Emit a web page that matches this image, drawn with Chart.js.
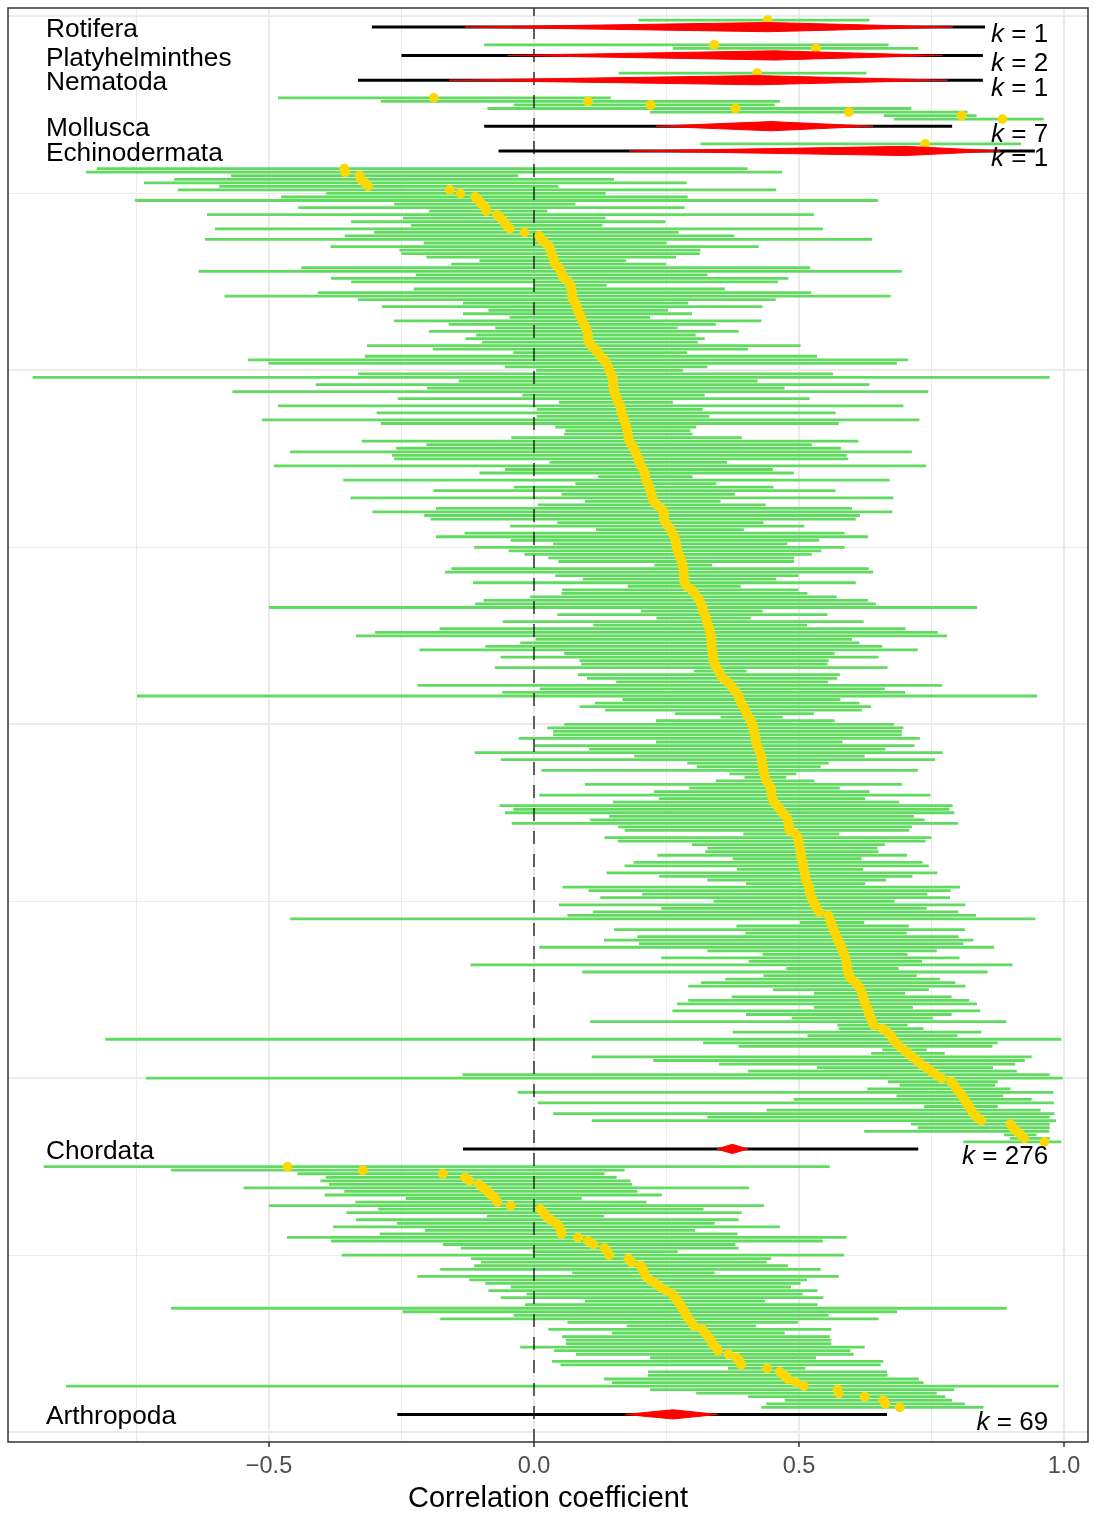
<!DOCTYPE html>
<html>
<head>
<meta charset="utf-8">
<title>Correlation coefficient by phylum</title>
<script src="https://cdn.jsdelivr.net/npm/chart.js@4.4.1/dist/chart.umd.min.js"></script>
<style>
  html, body { margin: 0; padding: 0; background: #fff; }
  canvas { display: block; }
</style>
</head>
<body>
<canvas id="forest" width="1095" height="1522"></canvas>
<script>
// phyla, top to bottom
const phyla = ["Rotifera", "Platyhelminthes", "Nematoda", "Mollusca", "Echinodermata", "Chordata", "Arthropoda"];
const kCounts = [1, 2, 1, 7, 1, 276, 69];

// pooled estimates per phylum
const summaryEst = [0.441, 0.454, 0.421, 0.447, 0.701, 0.374, 0.262];
const summaryCiLo = [-0.13, -0.05, -0.16, 0.23, 0.18, 0.345, 0.172];
const summaryCiHi = [0.79, 0.77, 0.78, 0.64, 0.88, 0.404, 0.347];
const summaryPiLo = [-0.306, -0.250, -0.332, -0.094, -0.067, -0.134, -0.258];
const summaryPiHi = [0.851, 0.847, 0.847, 0.789, 0.945, 0.725, 0.666];

// single studies (sorted within each phylum, top to bottom)
const rotiferaEst = [0.441];
const rotiferaLo = [0.197];
const rotiferaHi = [0.633];

const platyEst = [0.340, 0.532];
const platyLo = [-0.094, 0.262];
const platyHi = [0.669, 0.725];

const nematodaEst = [0.421];
const nematodaLo = [0.160];
const nematodaHi = [0.627];

const molluscaEst = [-0.189, 0.102, 0.220, 0.380, 0.594, 0.807, 0.884];
const molluscaLo = [-0.483, -0.289, -0.038, -0.088, 0.219, 0.660, 0.679];
const molluscaHi = [0.145, 0.464, 0.454, 0.712, 0.818, 0.835, 0.962];

const echinoEst = [0.738];
const echinoLo = [0.314];
const echinoHi = [0.919];

const chordataEst = [
  -0.358, -0.356, -0.329, -0.327, -0.319, -0.313, -0.159, -0.139, -0.111, -0.104,
  -0.099, -0.092, -0.090, -0.070, -0.063, -0.057, -0.052, -0.046, -0.018, 0.010,
  0.014, 0.021, 0.029, 0.031, 0.033, 0.036, 0.038, 0.040, 0.047, 0.051,
  0.053, 0.057, 0.065, 0.069, 0.070, 0.072, 0.072, 0.073, 0.078, 0.081,
  0.083, 0.085, 0.089, 0.091, 0.094, 0.098, 0.100, 0.102, 0.102, 0.103,
  0.108, 0.115, 0.121, 0.125, 0.132, 0.136, 0.140, 0.142, 0.146, 0.148,
  0.149, 0.149, 0.151, 0.151, 0.154, 0.156, 0.159, 0.163, 0.164, 0.165,
  0.168, 0.170, 0.173, 0.174, 0.176, 0.177, 0.178, 0.180, 0.184, 0.188,
  0.191, 0.194, 0.197, 0.199, 0.202, 0.206, 0.209, 0.210, 0.211, 0.215,
  0.218, 0.219, 0.222, 0.223, 0.226, 0.232, 0.240, 0.245, 0.245, 0.245,
  0.248, 0.253, 0.258, 0.261, 0.265, 0.267, 0.268, 0.269, 0.271, 0.273,
  0.276, 0.279, 0.280, 0.282, 0.282, 0.283, 0.283, 0.284, 0.288, 0.297,
  0.304, 0.307, 0.313, 0.315, 0.318, 0.319, 0.322, 0.325, 0.326, 0.328,
  0.331, 0.332, 0.334, 0.334, 0.335, 0.335, 0.336, 0.337, 0.338, 0.339,
  0.341, 0.344, 0.349, 0.352, 0.356, 0.365, 0.371, 0.376, 0.382, 0.386,
  0.388, 0.391, 0.395, 0.399, 0.401, 0.405, 0.409, 0.412, 0.414, 0.415,
  0.417, 0.418, 0.419, 0.421, 0.423, 0.426, 0.429, 0.430, 0.430, 0.432,
  0.433, 0.434, 0.436, 0.439, 0.443, 0.447, 0.448, 0.448, 0.450, 0.453,
  0.459, 0.464, 0.469, 0.475, 0.479, 0.480, 0.481, 0.482, 0.493, 0.498,
  0.499, 0.500, 0.502, 0.503, 0.504, 0.505, 0.507, 0.508, 0.509, 0.511,
  0.512, 0.513, 0.516, 0.519, 0.520, 0.521, 0.524, 0.527, 0.530, 0.534,
  0.538, 0.555, 0.558, 0.560, 0.563, 0.565, 0.568, 0.571, 0.573, 0.577,
  0.580, 0.582, 0.585, 0.588, 0.589, 0.590, 0.591, 0.593, 0.594, 0.599,
  0.607, 0.612, 0.616, 0.619, 0.621, 0.623, 0.625, 0.628, 0.631, 0.632,
  0.636, 0.638, 0.641, 0.657, 0.667, 0.674, 0.677, 0.683, 0.690, 0.698,
  0.706, 0.714, 0.722, 0.730, 0.740, 0.749, 0.758, 0.769, 0.787, 0.793,
  0.797, 0.803, 0.808, 0.812, 0.816, 0.821, 0.825, 0.829, 0.836, 0.844,
  0.899, 0.904, 0.911, 0.918, 0.925, 0.963
];
const chordataLo = [
  -0.825, -0.845, -0.572, -0.679, -0.736, -0.594, -0.672, -0.392, -0.477, -0.753,
  -0.264, -0.445, -0.198, -0.617, -0.247, -0.345, -0.232, -0.602, -0.302, -0.357,
  -0.621, -0.208, -0.384, -0.254, -0.250, -0.203, -0.103, -0.156, -0.439, -0.633,
  -0.223, -0.383, -0.345, 0.000, -0.227, -0.408, -0.584, -0.332, -0.134, -0.287,
  -0.086, -0.134, -0.046, -0.264, -0.161, -0.073, -0.198, -0.109, -0.129, -0.098,
  -0.315, -0.191, -0.039, -0.319, -0.540, -0.501, -0.055, 0.004, -0.332, -0.946,
  -0.142, -0.412, -0.202, -0.569, -0.022, -0.257, 0.047, -0.483, 0.005, -0.297,
  0.005, -0.513, -0.289, 0.040, 0.059, 0.057, -0.043, -0.325, -0.203, -0.260,
  -0.460, -0.268, -0.264, 0.029, -0.491, -0.055, -0.103, 0.121, -0.360, 0.078,
  -0.038, -0.190, 0.052, -0.346, 0.096, 0.007, -0.185, -0.305, -0.207, -0.195,
  0.044, -0.045, 0.117, -0.131, -0.185, -0.044, 0.036, -0.113, -0.048, -0.018,
  0.027, 0.046, 0.227, -0.156, -0.168, 0.040, 0.092, -0.115, 0.177, 0.053,
  0.052, -0.007, -0.095, -0.111, -0.500, 0.202, 0.044, 0.231, -0.059, 0.112,
  -0.178, -0.300, -0.336, 0.003, -0.026, -0.092, -0.216, 0.057, -0.063, 0.086,
  0.089, -0.074, 0.302, 0.083, 0.100, 0.155, -0.220, 0.011, -0.060, -0.749,
  0.167, 0.115, 0.086, 0.134, 0.266, 0.352, 0.230, 0.057, 0.025, 0.036,
  0.036, -0.029, 0.230, 0.001, 0.104, -0.112, 0.189, -0.063, 0.289, 0.307,
  0.014, 0.369, 0.397, 0.343, 0.096, 0.293, 0.226, 0.010, 0.236, 0.149,
  -0.065, -0.039, -0.055, 0.142, 0.106, -0.042, 0.159, 0.171, 0.395, 0.133,
  0.158, 0.298, 0.327, 0.323, 0.233, 0.375, 0.188, 0.171, 0.383, 0.137,
  0.236, 0.327, 0.400, 0.054, 0.103, 0.204, 0.125, 0.339, 0.047, 0.240,
  0.111, 0.063, -0.460, 0.502, 0.382, 0.151, 0.399, 0.195, 0.132, 0.198,
  0.010, 0.327, 0.431, 0.240, 0.405, -0.120, 0.476, 0.091, 0.433, 0.361,
  0.315, 0.291, 0.451, 0.528, 0.373, 0.291, 0.270, 0.528, 0.261, 0.400,
  0.486, 0.106, 0.572, 0.575, 0.375, 0.516, -0.809, 0.319, 0.386, 0.657,
  0.636, 0.109, 0.225, 0.349, 0.534, 0.404, -0.135, -0.732, 0.668, 0.690,
  0.629, -0.031, 0.684, 0.490, 0.007, 0.736, 0.439, 0.036, 0.327, 0.109,
  0.711, 0.724, 0.623, 0.887, 0.898, 0.810
];
const chordataHi = [
  0.403, 0.468, -0.030, 0.151, 0.288, 0.046, 0.457, 0.135, 0.290, 0.649,
  0.078, 0.284, 0.025, 0.528, 0.135, 0.248, 0.129, 0.545, 0.273, 0.378,
  0.638, 0.250, 0.424, 0.314, 0.313, 0.268, 0.174, 0.249, 0.521, 0.694,
  0.327, 0.480, 0.460, 0.137, 0.360, 0.523, 0.673, 0.456, 0.291, 0.431,
  0.253, 0.298, 0.219, 0.429, 0.343, 0.271, 0.386, 0.305, 0.322, 0.309,
  0.503, 0.404, 0.289, 0.534, 0.706, 0.685, 0.327, 0.281, 0.564, 0.973,
  0.422, 0.633, 0.473, 0.744, 0.322, 0.520, 0.262, 0.697, 0.318, 0.569,
  0.331, 0.727, 0.575, 0.306, 0.295, 0.299, 0.392, 0.612, 0.524, 0.579,
  0.713, 0.590, 0.593, 0.364, 0.740, 0.451, 0.490, 0.299, 0.671, 0.344,
  0.452, 0.569, 0.379, 0.678, 0.352, 0.437, 0.600, 0.676, 0.615, 0.607,
  0.433, 0.510, 0.396, 0.586, 0.630, 0.538, 0.478, 0.586, 0.542, 0.524,
  0.491, 0.491, 0.336, 0.632, 0.640, 0.499, 0.457, 0.607, 0.390, 0.499,
  0.516, 0.571, 0.630, 0.645, 0.836, 0.431, 0.554, 0.409, 0.622, 0.515,
  0.701, 0.762, 0.779, 0.600, 0.614, 0.657, 0.724, 0.567, 0.650, 0.556,
  0.554, 0.667, 0.401, 0.577, 0.572, 0.555, 0.770, 0.662, 0.700, 0.949,
  0.578, 0.614, 0.636, 0.619, 0.528, 0.469, 0.567, 0.679, 0.697, 0.694,
  0.694, 0.728, 0.582, 0.718, 0.663, 0.771, 0.624, 0.757, 0.556, 0.541,
  0.724, 0.495, 0.476, 0.529, 0.694, 0.577, 0.633, 0.748, 0.625, 0.689,
  0.790, 0.784, 0.793, 0.717, 0.737, 0.800, 0.713, 0.708, 0.576, 0.750,
  0.739, 0.662, 0.648, 0.650, 0.704, 0.618, 0.733, 0.745, 0.621, 0.761,
  0.714, 0.664, 0.625, 0.804, 0.786, 0.742, 0.785, 0.680, 0.814, 0.741,
  0.800, 0.834, 0.946, 0.623, 0.707, 0.813, 0.703, 0.801, 0.829, 0.810,
  0.868, 0.760, 0.705, 0.803, 0.732, 0.903, 0.688, 0.856, 0.722, 0.766,
  0.795, 0.814, 0.745, 0.700, 0.788, 0.821, 0.836, 0.715, 0.842, 0.788,
  0.753, 0.891, 0.705, 0.735, 0.844, 0.799, 0.995, 0.875, 0.865, 0.741,
  0.775, 0.939, 0.926, 0.908, 0.866, 0.911, 0.973, 0.998, 0.875, 0.870,
  0.899, 0.980, 0.885, 0.939, 0.981, 0.875, 0.956, 0.982, 0.973, 0.985,
  0.973, 0.973, 0.972, 0.948, 0.973, 0.995
];

const arthropodaEst = [
  -0.465, -0.323, -0.172, -0.130, -0.122, -0.104, -0.096, -0.087, -0.081, -0.073,
  -0.069, -0.044, 0.012, 0.018, 0.023, 0.031, 0.042, 0.047, 0.051, 0.052,
  0.083, 0.102, 0.112, 0.133, 0.138, 0.142, 0.178, 0.184, 0.201, 0.206,
  0.208, 0.211, 0.219, 0.229, 0.238, 0.249, 0.261, 0.266, 0.271, 0.276,
  0.280, 0.284, 0.287, 0.292, 0.297, 0.302, 0.318, 0.323, 0.328, 0.334,
  0.337, 0.343, 0.347, 0.367, 0.382, 0.388, 0.391, 0.440, 0.464, 0.472,
  0.479, 0.494, 0.509, 0.573, 0.575, 0.624, 0.659, 0.663, 0.690
];
const arthropodaLo = [
  -0.925, -0.685, -0.446, -0.393, -0.403, -0.387, -0.548, -0.358, -0.395, -0.242,
  -0.337, -0.500, -0.294, -0.354, -0.089, -0.336, -0.259, -0.379, -0.206, -0.291,
  -0.466, -0.383, -0.172, -0.138, -0.003, -0.363, -0.119, -0.100, -0.113, -0.177,
  0.072, -0.220, -0.122, -0.092, -0.044, -0.086, -0.014, -0.063, 0.096, -0.017,
  -0.685, -0.248, -0.038, -0.177, 0.063, 0.175, 0.027, 0.147, 0.053, 0.060,
  0.060, -0.026, 0.038, 0.079, 0.219, 0.034, 0.050, 0.366, 0.215, 0.215,
  0.132, 0.147, -0.883, 0.219, 0.306, 0.404, 0.473, 0.438, 0.429
];
const arthropodaHi = [
  0.558, 0.171, 0.133, 0.156, 0.182, 0.185, 0.406, 0.195, 0.241, 0.090,
  0.212, 0.434, 0.320, 0.392, 0.132, 0.386, 0.341, 0.464, 0.304, 0.384,
  0.590, 0.545, 0.380, 0.386, 0.271, 0.585, 0.447, 0.439, 0.479, 0.541,
  0.341, 0.575, 0.515, 0.503, 0.485, 0.535, 0.507, 0.546, 0.436, 0.535,
  0.892, 0.685, 0.556, 0.650, 0.498, 0.419, 0.561, 0.473, 0.558, 0.561,
  0.561, 0.624, 0.597, 0.603, 0.532, 0.659, 0.654, 0.512, 0.666, 0.667,
  0.726, 0.735, 0.990, 0.793, 0.760, 0.776, 0.789, 0.813, 0.848
];

// axis ticks
const xGridValues = [-0.75, -0.5, -0.25, 0, 0.25, 0.5, 0.75, 1];
const xMajorTicks = [-0.5, 0, 0.5, 1];
const xTickLabels = ["\u22120.5", "0.0", "0.5", "1.0"];
const yGridValues = [0, 50, 100, 150, 200, 250, 300, 350, 400];
const yMajorTicks = [0, 100, 200, 300, 400];

const studyEst = [rotiferaEst, platyEst, nematodaEst, molluscaEst, echinoEst, chordataEst, arthropodaEst];
const studyLo = [rotiferaLo, platyLo, nematodaLo, molluscaLo, echinoLo, chordataLo, arthropodaLo];
const studyHi = [rotiferaHi, platyHi, nematodaHi, molluscaHi, echinoHi, chordataHi, arthropodaHi];

// row layout: one unit per study, built from the bottom up
const summaryRow = [];
const studyRows = [];
let row = 5;
for (let p = phyla.length - 1; p >= 0; p--) {
  const k = studyEst[p].length;
  summaryRow[p] = row;
  studyRows[p] = studyEst[p].map((_, i) => row + 1 + k - i);
  row += 1 + k + 5;
}

const GREEN = "#60db60";
const GOLD = "#ffd700";
const RED = "#ff0000";
const FONT = '"Liberation Sans", Arial, Helvetica, sans-serif';
const DIAMOND_H = 1.3;

function segments(los, his, rows) {
  const pts = [];
  los.forEach((lo, i) => {
    pts.push({ x: lo, y: rows[i] }, { x: his[i], y: rows[i] }, { x: his[i], y: null });
  });
  return pts;
}

const ciPoints = [];
const estPoints = [];
phyla.forEach((_, p) => {
  ciPoints.push(...segments(studyLo[p], studyHi[p], studyRows[p]));
  studyEst[p].forEach((e, i) => estPoints.push({ x: e, y: studyRows[p][i] }));
});

const piPoints = segments(summaryPiLo, summaryPiHi, summaryRow);

const diamondSets = phyla.map((_, p) => {
  const r = summaryRow[p];
  return {
    type: "line",
    data: [
      { x: summaryCiLo[p], y: r },
      { x: summaryEst[p], y: r + DIAMOND_H },
      { x: summaryCiHi[p], y: r },
      { x: summaryEst[p], y: r - DIAMOND_H },
      { x: summaryCiLo[p], y: r }
    ],
    borderColor: RED,
    borderWidth: 1,
    backgroundColor: RED,
    fill: "shape",
    pointRadius: 0,
    order: 1
  };
});

const yMin = -2.8;
const yMax = 402.4;

const datasets = [
  {
    type: "line",
    data: ciPoints,
    borderColor: GREEN,
    borderWidth: 2.8,
    borderCapStyle: "butt",
    pointRadius: 0,
    spanGaps: false,
    order: 6
  },
  {
    type: "line",
    data: [{ x: 0, y: yMin }, { x: 0, y: yMax }],
    borderColor: "rgba(0,0,0,0.6)",
    borderWidth: 2,
    borderDash: [13, 10],
    pointRadius: 0,
    order: 5
  },
  {
    type: "line",
    data: estPoints,
    showLine: false,
    pointRadius: 4.9,
    pointBorderWidth: 0,
    pointBackgroundColor: GOLD,
    pointBorderColor: GOLD,
    order: 4
  },
  {
    type: "line",
    data: piPoints,
    borderColor: "#000",
    borderWidth: 3,
    borderCapStyle: "butt",
    pointRadius: 0,
    spanGaps: false,
    order: 3
  },
  ...diamondSets
];

const phylumText = {
  id: "phylumText",
  afterDatasetsDraw(chart) {
    const { ctx, scales: { x, y } } = chart;
    ctx.save();
    ctx.fillStyle = "#000";
    ctx.textBaseline = "middle";
    phyla.forEach((name, p) => {
      const yy = y.getPixelForValue(summaryRow[p] - 0.8);
      ctx.font = "26.3px " + FONT;
      ctx.textAlign = "left";
      ctx.fillText(name, x.getPixelForValue(-0.921), yy);

      const ky = y.getPixelForValue(summaryRow[p] - 2.3);
      const right = x.getPixelForValue(0.970);
      const rest = " = " + kCounts[p];
      ctx.font = "26px " + FONT;
      const restW = ctx.measureText(rest).width;
      ctx.fillText(rest, right - restW, ky);
      ctx.font = "italic 26px " + FONT;
      const kW = ctx.measureText("k").width;
      ctx.fillText("k", right - restW - kW, ky);
    });
    ctx.restore();
  },
  afterDraw(chart) {
    const { ctx, chartArea: a } = chart;
    ctx.save();
    ctx.strokeStyle = "#333333";
    ctx.lineWidth = 1.5;
    ctx.strokeRect(a.left, a.top, a.right - a.left, a.bottom - a.top);
    ctx.restore();
  }
};

const whiteBg = {
  id: "whiteBg",
  beforeDraw(chart) {
    const { ctx } = chart;
    ctx.save();
    ctx.fillStyle = "#fff";
    ctx.fillRect(0, 0, chart.width, chart.height);
    ctx.restore();
  }
};

new Chart(document.getElementById("forest"), {
  type: "line",
  data: { datasets },
  options: {
    responsive: false,
    animation: false,
    events: [],
    layout: { padding: { left: 8, right: 7, top: 8, bottom: 0 } },
    plugins: {
      legend: { display: false },
      tooltip: { enabled: false }
    },
    scales: {
      x: {
        type: "linear",
        min: -0.9925,
        max: 1.0453,
        afterBuildTicks: (s) => { s.ticks = xGridValues.map(v => ({ value: v })); },
        afterFit: (s) => { s.height = 80; },
        border: { display: false },
        grid: {
          color: "#ebebeb",
          lineWidth: (c) => (c.tick && xMajorTicks.includes(c.tick.value) ? 2 : 1),
          drawTicks: true,
          tickLength: 5,
          tickWidth: 1.5,
          tickColor: (c) => (c.tick && xMajorTicks.includes(c.tick.value) ? "#333333" : "rgba(0,0,0,0)")
        },
        ticks: {
          autoSkip: false,
          maxRotation: 0,
          padding: 5,
          color: "#4d4d4d",
          font: { family: FONT, size: 23.5 },
          callback: (v) => {
            const i = xMajorTicks.indexOf(v);
            return i >= 0 ? xTickLabels[i] : "";
          }
        },
        title: {
          display: true,
          text: "Correlation coefficient",
          color: "#000",
          font: { family: FONT, size: 29 },
          padding: { top: 0, bottom: 6 }
        }
      },
      y: {
        type: "linear",
        min: yMin,
        max: yMax,
        afterBuildTicks: (s) => { s.ticks = yGridValues.map(v => ({ value: v })); },
        afterFit: (s) => { s.width = 0; },
        border: { display: false },
        grid: {
          color: "#ebebeb",
          lineWidth: (c) => (c.tick && yMajorTicks.includes(c.tick.value) ? 2 : 1),
          drawTicks: false
        },
        ticks: { display: false }
      }
    }
  },
  plugins: [whiteBg, phylumText]
});
</script>
</body>
</html>
